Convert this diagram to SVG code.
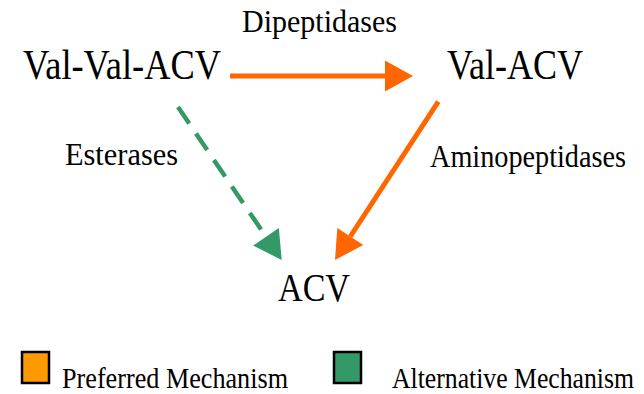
<svg xmlns="http://www.w3.org/2000/svg" width="644" height="394" viewBox="0 0 644 394">
<style>
.t{font-family:"Times New Roman","Liberation Serif","DejaVu Serif",serif;fill:#000}
.or{stroke:#FF6600;stroke-width:5;fill:none}
.gr{stroke:#339966;stroke-width:4.5;fill:none;stroke-dasharray:20 12}
.box{stroke:#000;stroke-width:2.5}
</style>
<defs>
<marker id="ho" markerUnits="userSpaceOnUse" markerWidth="29" markerHeight="32" refX="0" refY="15.5" orient="auto" overflow="visible">
<path d="M0,0 L28,15.5 L0,31 Z" fill="#FF6600"/>
</marker>
<marker id="hg" markerUnits="userSpaceOnUse" markerWidth="29" markerHeight="32" refX="0" refY="15.5" orient="auto" overflow="visible">
<path d="M0,0 L28,15.5 L0,31 Z" fill="#339966"/>
</marker>
</defs>
<rect width="644" height="394" fill="#fff"/>
<g id="connectors">
<line class="or" x1="230" y1="76" x2="385" y2="76" marker-end="url(#ho)"/>
<line class="or" x1="438.3" y1="101.7" x2="350.3" y2="236.5" marker-end="url(#ho)"/>
<line class="gr" x1="178" y1="107" x2="266" y2="236.8" marker-end="url(#hg)"/>
</g>
<g id="node-valvalacv"><text class="t" font-size="42" x="23" y="79" textLength="198" lengthAdjust="spacingAndGlyphs">Val-Val-ACV</text></g>
<g id="node-valacv"><text class="t" font-size="42" x="447" y="79" textLength="136" lengthAdjust="spacingAndGlyphs">Val-ACV</text></g>
<g id="node-acv"><text class="t" font-size="40" x="278" y="301" textLength="72" lengthAdjust="spacingAndGlyphs">ACV</text></g>
<g id="labels">
<text class="t" font-size="32" x="242" y="32" textLength="155" lengthAdjust="spacingAndGlyphs">Dipeptidases</text>
<text class="t" font-size="32" x="65" y="165" textLength="113" lengthAdjust="spacingAndGlyphs">Esterases</text>
<text class="t" font-size="32" x="430" y="167" textLength="196" lengthAdjust="spacingAndGlyphs">Aminopeptidases</text>
</g>
<g id="legend">
<rect class="box" x="22" y="352" width="27" height="31" fill="#FF9900"/>
<text class="t" font-size="29" x="62" y="388" textLength="226" lengthAdjust="spacingAndGlyphs">Preferred Mechanism</text>
<rect class="box" x="334" y="352" width="27" height="31" fill="#339966"/>
<text class="t" font-size="29" x="392" y="388" textLength="242" lengthAdjust="spacingAndGlyphs">Alternative Mechanism</text>
</g>
</svg>
